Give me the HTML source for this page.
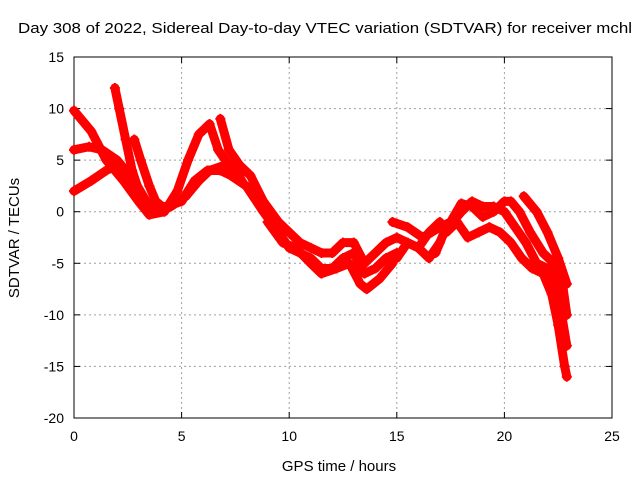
<!DOCTYPE html>
<html><head><meta charset="utf-8"><style>
html,body{margin:0;padding:0;background:#fff;}
svg{display:block;font-family:"Liberation Sans",sans-serif;}
</style></head><body>
<svg id="chart" width="640" height="480">
<text x="325" y="33" font-size="15" text-anchor="middle" textLength="614" lengthAdjust="spacingAndGlyphs">Day 308 of 2022, Sidereal Day-to-day VTEC variation (SDTVAR) for receiver mchl</text>
<text x="339" y="471" font-size="15" text-anchor="middle">GPS time / hours</text>
<text transform="translate(19,238) rotate(-90)" font-size="15" text-anchor="middle">SDTVAR / TECUs</text>
<g id="grid"></g><g id="axes"></g><g id="series"></g>
</svg>
<script>
const xTicks=[0,5,10,15,20,25];
const yTicks=[15,10,5,0,-5,-10,-15,-20];
const trace1=[[0,9.8],[0.8,7.8],[1.5,5],[2.3,3],[3,1],[3.5,-0.3],[4.2,0],[4.8,2],[5.3,5],[5.8,7.5],[6.3,8.5],[6.7,6],[7.2,4.5],[7.8,3]];
const trace2=[[0,6],[0.7,6.3],[1.3,6],[2,5],[2.8,3],[3.5,0.5],[4.3,0.5],[5,1],[5.6,3],[6.2,4],[6.8,4],[7.3,3.5],[8,2.5],[8.8,0],[9.5,-2],[10,-3.5],[10.5,-4],[11,-4.5],[11.5,-5.5],[12,-5.5],[12.5,-4.5],[13,-4],[13.5,-6],[14,-5.5],[14.5,-4.5],[15,-4]];
const trace3=[[0,2],[0.8,3],[1.5,4],[2,4.5],[2.7,3],[3.3,1],[3.8,0.3],[4.5,0.5],[5.2,1.5],[5.8,3],[6.3,4],[7,4.5],[7.7,3.5]];
const trace4=[[1.9,12],[2.1,10],[2.4,7],[2.7,4],[3.1,1.5],[3.5,0.5]];
const trace5=[[2.8,7],[3.1,5],[3.5,2.5],[3.8,1],[4.1,0.5]];
const trace6=[[6.8,9],[7.2,6],[7.7,4.5],[8.2,3.5],[8.8,1],[9.5,-1],[10,-2],[10.5,-3],[11,-3.5],[11.5,-4],[12,-4],[12.5,-3],[13,-3],[13.5,-5],[14,-4],[14.5,-3],[15,-2.5],[15.5,-3],[16,-3.5],[16.5,-2],[17,-1]];
const trace7=[[9,-1],[9.7,-3],[10.3,-3.5],[11,-5],[11.5,-6],[12.2,-5.5],[12.8,-5],[13.3,-7],[13.6,-7.5],[14.2,-6.5],[14.8,-5]];
const trace8=[[14.8,-1],[15.5,-1.5],[16.2,-2.5],[16.6,-2],[17,-1.5],[17.5,-1],[18,0.8],[18.5,0.5],[19,-0.5],[19.5,0],[20,1],[20.3,1],[20.7,0],[21.2,-2],[21.8,-4],[22.3,-5],[22.7,-7],[22.9,-10]];
const trace9=[[17.3,-2],[17.8,-1],[18.3,-2.5],[18.8,-2],[19.3,-1.5],[19.8,-2],[20.3,-3],[20.8,-4.5],[21.3,-5.5],[21.8,-6],[22.2,-8],[22.5,-11],[22.8,-15],[22.9,-16]];
const trace10=[[20.9,1.5],[21.5,0],[22,-2],[22.5,-4.5],[22.9,-7]];
const trace11=[[16.8,-4],[17.2,-2],[17.6,-1],[18,0],[18.5,1],[19,0.5],[19.5,0.5],[20,0],[20.5,-1.5],[21,-3],[21.5,-5],[22,-5.5],[22.5,-8],[22.9,-13]];
const trace12=[[15,-4.5],[15.5,-3],[16,-3.5],[16.5,-4.5],[17,-3]];
const traces=[trace1,trace2,trace3,trace4,trace5,trace6,trace7,trace8,trace9,trace10,trace11,trace12];

const L=74,R=612,T=57,B=418,xMin=0,xMax=25,yMin=-20,yMax=15;
const sx=v=>L+(v-xMin)/(xMax-xMin)*(R-L);
const sy=v=>B-(v-yMin)/(yMax-yMin)*(B-T);
const NS='http://www.w3.org/2000/svg';
function mk(tag,attrs,parent){const e=document.createElementNS(NS,tag);for(const k in attrs)e.setAttribute(k,attrs[k]);parent.appendChild(e);return e;}
const grid=document.getElementById('grid'),axes=document.getElementById('axes'),series=document.getElementById('series');
xTicks.forEach(t=>{
  const x=sx(t);
  if(t>xMin&&t<xMax){const g=mk('line',{x1:x,y1:T,x2:x,y2:B,stroke:'#a0a0a0','stroke-dasharray':'2,3'},grid);
  
  }
  mk('line',{x1:x,y1:B,x2:x,y2:B-6,stroke:'#000'},axes);
  mk('line',{x1:x,y1:T,x2:x,y2:T+6,stroke:'#000'},axes);
  const lb=mk('text',{x:x,y:B+23,'font-size':14,'text-anchor':'middle'},axes);
  lb.textContent=t;
  
  
});
yTicks.forEach(t=>{
  const y=sy(t);
  if(t>yMin&&t<yMax){const g=mk('line',{x1:L,y1:y,x2:R,y2:y,stroke:'#a0a0a0','stroke-dasharray':'2,3'},grid);
  
  }
  mk('line',{x1:L,y1:y,x2:L+6,y2:y,stroke:'#000'},axes);
  mk('line',{x1:R,y1:y,x2:R-6,y2:y,stroke:'#000'},axes);
  const lb=mk('text',{x:L-10,y:y+5,'font-size':14,'text-anchor':'end'},axes);
  lb.textContent=t;
  
  
});
const fr=mk('rect',{x:L,y:T,width:R-L,height:B-T,fill:'none',stroke:'#000'},axes);


traces.forEach((tr,i)=>{
  const p=mk('polyline',{points:tr.map(d=>sx(d[0])+','+sy(d[1])).join(' '),fill:'none',stroke:'#ff0000','stroke-width':9,'stroke-linejoin':'round','stroke-linecap':'round'},series);
  
  
  tr.forEach(d=>{
    const x=sx(d[0]),y=sy(d[1]);
    const m=mk('path',{d:`M${x-5},${y}H${x+5}M${x},${y-5}V${y+5}`,stroke:'#ff0000','stroke-width':2},series);
    
    
  });
});
</script>
</body></html>
